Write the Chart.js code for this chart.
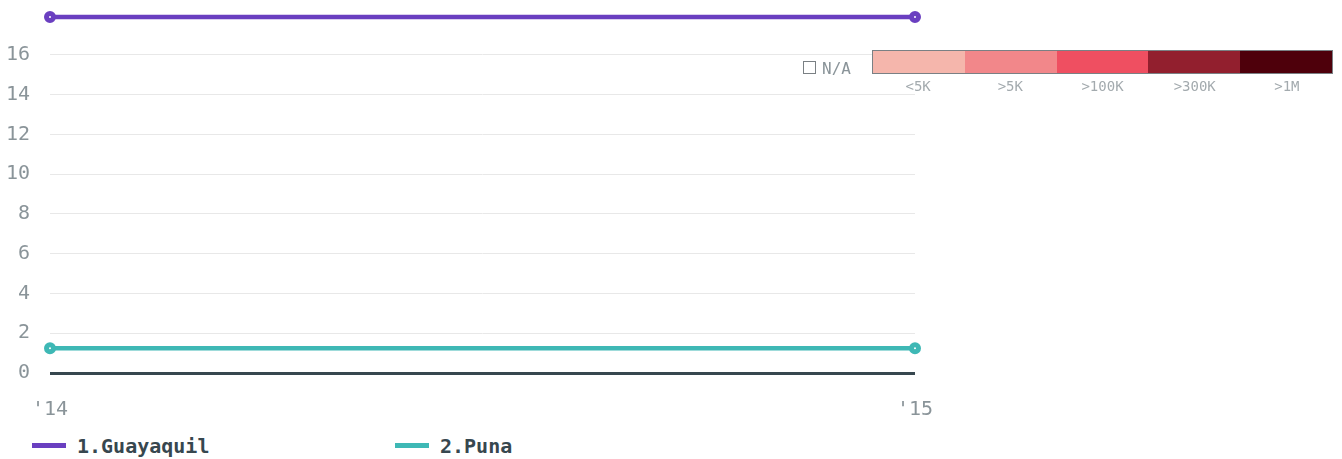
<!DOCTYPE html>
<html>
<head>
<meta charset="utf-8">
<script src="https://cdn.jsdelivr.net/npm/chart.js@4"></script>
<style>
  html, body { margin: 0; padding: 0; background: #fff; }
  body { width: 1342px; height: 459px; position: relative; overflow: hidden; font-family: 'DejaVu Sans Mono', monospace; }
  #wrap { position: absolute; left: 0; top: 0; width: 1342px; height: 425px; }
  .scale { position: absolute; left: 872px; top: 50px; width: 461px; }
  .scale .bar { display: flex; height: 22px; border: 1px solid #7a8084; }
  .scale .bar span { flex: 1; }
  .scale .labels { display: flex; }
  .scale .labels span { flex: 1; text-align: center; font-size: 14px; color: #a3aaae; margin-top: 4px; }
  .na { position: absolute; left: 803px; top: 59px; font-size: 16px; color: #8a9499; }
  .na i { display: inline-block; width: 11px; height: 11px; border: 1.5px solid #7a8084; vertical-align: 0px; margin-right: 6px; }
  .legend { position: absolute; top: 434px; left: 32px; }
  .legend .item { position: absolute; white-space: nowrap; font-weight: bold; font-size: 20px; color: #37474f; }
  .legend .sw { display: inline-block; width: 34px; height: 5px; vertical-align: 5px; margin-right: 11px; }
</style>
</head>
<body>
<div id="wrap"><canvas id="c"></canvas></div>
<div class="na"><i></i>N/A</div>
<div class="scale">
  <div class="bar" id="scaleBar"></div>
  <div class="labels" id="scaleLabels"></div>
</div>
<div class="legend" id="legend"></div>
<script>
var YEARS = ["'14", "'15"];
var SERIES_NAMES = ['1.Guayaquil', '2.Puna'];
var GUAYAQUIL = [17.9, 17.9];
var PUNA = [1.25, 1.25];
var SERIES_COLORS = ['#6a3fc0', '#3eb8b5'];
var SCALE_LABELS = ['<5K', '>5K', '>100K', '>300K', '>1M'];
var SCALE_COLORS = ['#f5b6ac', '#f2878a', '#ef4f61', '#921f2e', '#4e000b'];

// colour key + legend
SCALE_COLORS.forEach(function (c, i) {
  var s = document.createElement('span');
  s.style.background = c;
  document.getElementById('scaleBar').appendChild(s);
  var l = document.createElement('span');
  l.textContent = SCALE_LABELS[i];
  document.getElementById('scaleLabels').appendChild(l);
});
[0, 363].forEach(function (x, i) {
  var d = document.createElement('div');
  d.className = 'item';
  d.style.left = x + 'px';
  d.innerHTML = '<span class="sw" style="background:' + SERIES_COLORS[i] + '"></span>' + SERIES_NAMES[i];
  document.getElementById('legend').appendChild(d);
});

function ds(label, data, color) {
  return {
    label: label,
    data: data,
    borderColor: color,
    backgroundColor: '#fff',
    borderWidth: 4.5,
    pointRadius: 3.5,
    pointBorderWidth: 5,
    pointBorderColor: color,
    pointBackgroundColor: '#fff',
    clip: false
  };
}

new Chart(document.getElementById('c'), {
  type: 'line',
  data: {
    labels: YEARS,
    datasets: [ds(SERIES_NAMES[0], GUAYAQUIL, SERIES_COLORS[0]), ds(SERIES_NAMES[1], PUNA, SERIES_COLORS[1])]
  },
  options: {
    responsive: true,
    maintainAspectRatio: false,
    animation: false,
    layout: { padding: { top: 15, right: 427, left: 0, bottom: 0 } },
    plugins: { legend: { display: false }, tooltip: { enabled: false } },
    scales: {
      x: {
        offset: false,
        grid: { display: false, drawTicks: false },
        border: { display: false },
        ticks: { color: '#8a9499', font: { family: 'DejaVu Sans Mono', size: 20 }, padding: 25, maxRotation: 0 },
        afterFit: function (s) { s.height = 52; }
      },
      y: {
        min: 0, max: 18,
        grid: {
          drawTicks: false,
          color: function (c) { return c.tick.value === 0 ? '#37474f' : (c.tick.value === 18 ? 'rgba(0,0,0,0)' : '#e8e8e8'); },
          lineWidth: function (c) { return c.tick.value === 0 ? 3 : 1; }
        },
        border: { display: false },
        ticks: {
          stepSize: 2,
          padding: 20,
          color: '#8a9499',
          font: { family: 'DejaVu Sans Mono', size: 20 },
          callback: function (v) { return v === 18 ? '' : v; }
        },
        afterFit: function (s) { s.width = 50; s.paddingTop = 0; s.paddingBottom = 0; }
      }
    }
  }
});
</script>
</body>
</html>
